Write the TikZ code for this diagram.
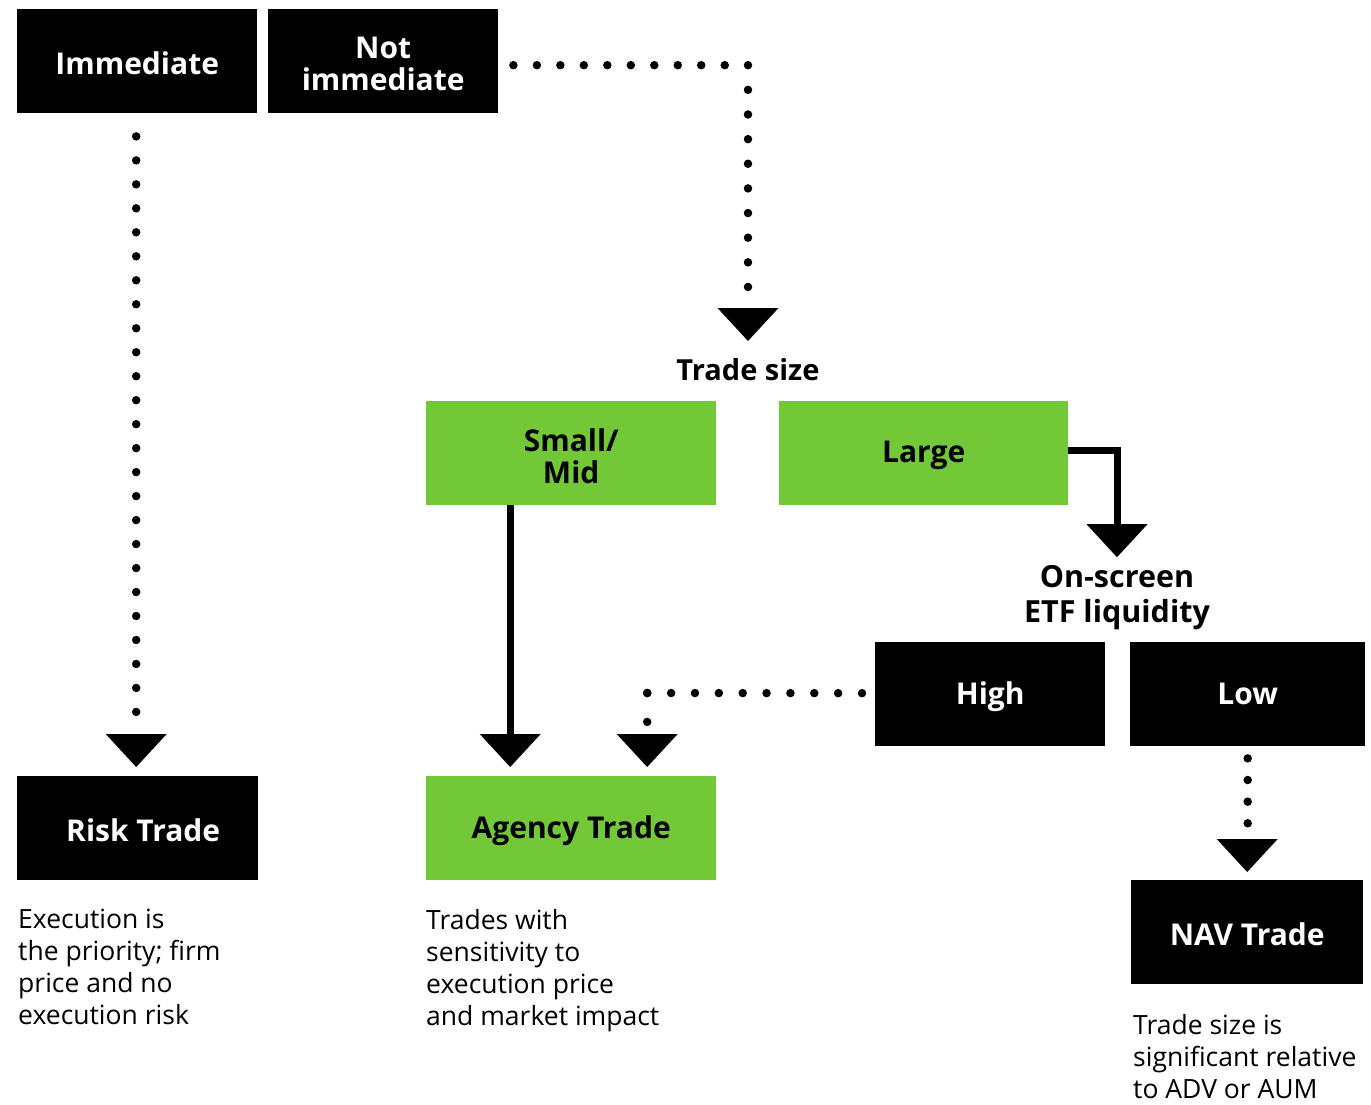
\documentclass[tikz,border=0pt]{standalone}
\usepackage{fontspec}
\setmainfont{Open Sans}
\usetikzlibrary{calc}
\definecolor{leaf}{HTML}{72C837}
\begin{document}
\begin{tikzpicture}[x=1pt,y=-1pt,
  box/.style={anchor=north west, inner sep=0pt, minimum height=104pt},
  darkbox/.style={box, fill=black},
  greenbox/.style={box, fill=leaf},
  boxtext/.style={inner sep=0pt, align=center, font=\bfseries\fontsize{30}{32}\selectfont},
  darktext/.style={boxtext, text=white},
  greentext/.style={boxtext, text=black},
  heading/.style={inner sep=0pt, align=center, font=\bfseries\fontsize{#1}{35}\selectfont},
  note/.style={anchor=north west, inner sep=0pt, align=left, font=\fontsize{26.5}{32}\selectfont},
  dotline/.style={line width=8.5pt, line cap=round, dash pattern=on 0pt off #1},
  solidline/.style={line width=7pt, line join=miter},
  tri/.pic={\fill (-30.5,-33) -- (30.5,-33) -- (0,0) -- cycle;}
]
\useasboundingbox (0,0) rectangle (1371,1104);

% decision boxes
\node[darkbox, minimum width=240pt] (imm) at (17,9) {};
\node[darkbox, minimum width=230pt] (notimm) at (268,9) {};
\node[greenbox, minimum width=290pt] (smallmid) at (426,401) {};
\node[greenbox, minimum width=289pt] (large) at (779,401) {};
\node[darkbox, minimum width=230pt] (high) at (875,642) {};
\node[darkbox, minimum width=235pt] (low) at (1130,642) {};

% outcome boxes
\node[darkbox, minimum width=241pt] (risk) at (17,776) {};
\node[greenbox, minimum width=290pt] (agency) at (426,776) {};
\node[darkbox, minimum width=232pt] (nav) at (1131,880) {};

% box labels
\node[darktext] (immtext) at ($(imm.center)+(0,2.5)$) {Immediate};
\node[darktext] (notimmtext) at ($(notimm.center)+(0,3)$) {Not\\immediate};
\node[greentext] (smallmidtext) at ($(smallmid.center)+(0,3)$) {Small/\\Mid};
\node[greentext] (largetext) at ($(large.center)+(0,2.5)$) {Large};
\node[darktext] (hightext) at ($(high.center)+(0,2.5)$) {High};
\node[darktext] (lowtext) at ($(low.center)+(0,-0.5)$) {Low};
\node[darktext] (risktext) at ($(risk.center)+(5.5,2.5)$) {Risk Trade};
\node[greentext] (agencytext) at ($(agency.center)+(0,2.5)$) {Agency Trade};
\node[darktext] (navtext) at ($(nav.center)+(0,2.5)$) {NAV Trade};

% question headings
\node[heading=29] (tradesize) at (748,370) {Trade size};
\node[heading=30.5] (onscreen) at (1117,598) {On-screen\\ETF liquidity};

% explanations
\node[note] (risknote) at (18,909) {Execution is\\the priority; firm\\price and no\\execution risk};
\node[note] (agnote) at (426,909) {Trades with\\sensitivity to\\execution price\\and market impact};
\node[note] (navnote) at (1133,1014) {Trade size is\\significant relative\\to ADV or AUM};

% Immediate -> Risk Trade
\draw[dotline=23.98pt] ($(imm.south)+(-1,23)$) -- ($(risk.north)+(-1.5,-64)$);
\pic at ($(risk.north)+(-1.5,-9)$) {tri};

% Not immediate -> Trade size
\coordinate (ni1) at ($(notimm.east)+(15,4)$);
\coordinate (ni2) at (tradesize.center |- ni1);
\coordinate (ni3) at ($(ni2)+(0,222)$);
\draw[dotline=23.48pt] (ni1) -- (ni2);
\draw[dotline=24.64pt] (ni2) -- (ni3);
\pic at ($(tradesize.center)+(0,-29)$) {tri};

% Small/Mid -> Agency Trade
\draw[solidline] ($(smallmid.south)+(-61,0)$) -- ($(agency.north)+(-61,-41)$);
\pic at ($(agency.north)+(-61,-9)$) {tri};

% Large -> On-screen ETF liquidity
\coordinate (l1) at ($(large.east)+(0,-3)$);
\coordinate (l2) at (onscreen.center |- l1);
\coordinate (l3) at ($(l2)+(0,74)$);
\draw[solidline] (l1) -- (l2) -- (l3);
\pic at ($(l2)+(0,107)$) {tri};

% High -> Agency Trade
\coordinate (h1) at ($(high.west)+(-13,-1)$);
\coordinate (h2) at ($(agency.north)+(76,-83)$);
\coordinate (h3) at ($(h2)+(0,29)$);
\draw[dotline=23.86pt] (h1) -- (h2);
\draw[dotline=28.9pt] (h2) -- (h3);
\pic at ($(agency.north)+(76,-9)$) {tri};

% Low -> NAV Trade
\draw[dotline=21.63pt] ($(low.south)+(0,12)$) -- ($(low.south)+(0,77)$);
\pic at ($(nav.north)+(0,-8)$) {tri};
\end{tikzpicture}
\end{document}
